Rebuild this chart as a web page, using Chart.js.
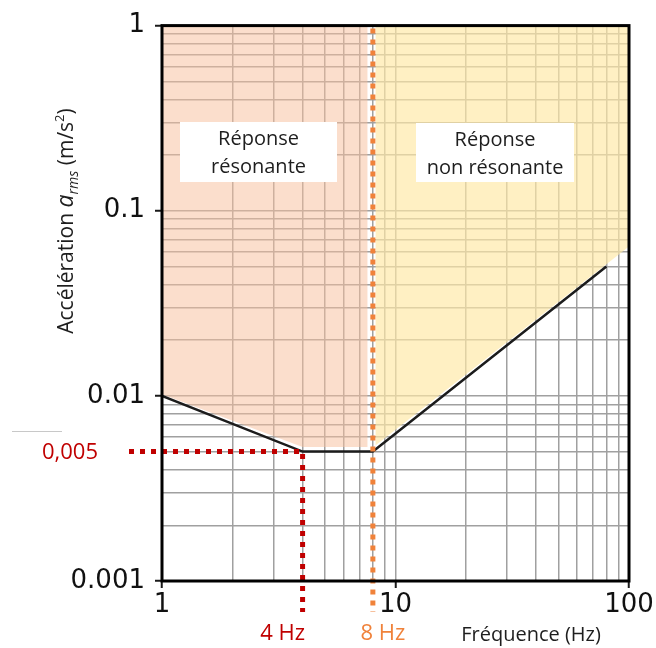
<!DOCTYPE html>
<html>
<head>
<meta charset="utf-8">
<script src="https://cdn.jsdelivr.net/npm/chart.js@4"></script>
<style>
  html, body { margin: 0; padding: 0; background: #ffffff; }
  canvas { display: block; }
</style>
</head>
<body>
<canvas id="c" width="656" height="648"></canvas>
<script>
// Threshold curve: frequency (Hz) and rms acceleration (m/s²)
const freqHz = [1, 4, 8, 80];
const accRms = [0.01, 0.005, 0.005, 0.05];

// Lower edges of the two shaded response zones
const resonantFreq = [1, 4, 7.6];
const resonantAcc = [0.0102, 0.0053, 0.0053];
const nonResonantFreq = [8.2, 100];
const nonResonantAcc = [0.0054, 0.064];

// Reference markers
const markerAcc = 0.005;
const markerFreqRed = 4;
const markerFreqOrange = 8;
const markerAccLabel = '0,005';
const markerRedLabel = '4 Hz';
const markerOrangeLabel = '8 Hz';

// Axes
const xMajor = [1, 10, 100];
const xTickLabels = ['1', '10', '100'];
const yMajor = [0.001, 0.01, 0.1, 1];
const yTickLabels = ['0.001', '0.01', '0.1', '1'];
const minorSteps = [1, 2, 3, 4, 5, 6, 7, 8, 9];
const xTitle = 'Fréquence (Hz)';
const zoneLabels = [['Réponse', 'résonante'], ['Réponse', 'non résonante']];

const RED = '#c00000';
const ORANGE = '#f0823a';
const GRID = '#a0a0a0';
const TEXT_FONT = '"Open Sans", "Liberation Sans", sans-serif';

function gridValues(majors) {
  const out = [];
  for (let i = 0; i < majors.length - 1; i++) {
    for (const s of minorSteps) out.push(+(majors[i] * s).toPrecision(6));
  }
  out.push(majors[majors.length - 1]);
  return out;
}
function majorIndex(list, v) {
  return list.findIndex(m => Math.abs(m - v) / m < 1e-6);
}
function toPoints(xs, ys) {
  return xs.map((v, i) => ({ x: v, y: ys[i] }));
}

const overlay = {
  id: 'overlay',
  afterDatasetsDraw(chart) {
    const { ctx, chartArea: a, scales: { x, y } } = chart;
    const yv = y.getPixelForValue(markerAcc);
    const x4 = x.getPixelForValue(markerFreqRed);
    const x8 = x.getPixelForValue(markerFreqOrange);

    // Zone captions on white cards
    const cards = [
      { l: a.left + 18, r: a.left + 175, t: 122, b: 182, lines: zoneLabels[0] },
      { l: a.left + 254, r: a.left + 412, t: 123, b: 182, lines: zoneLabels[1] }
    ];
    ctx.save();
    for (const c of cards) {
      ctx.fillStyle = '#ffffff';
      ctx.fillRect(c.l, c.t, c.r - c.l, c.b - c.t);
      ctx.fillStyle = '#1e1e1e';
      ctx.font = '20px ' + TEXT_FONT;
      ctx.textAlign = 'center';
      ctx.textBaseline = 'middle';
      const cx = (c.l + c.r) / 2;
      ctx.fillText(c.lines[0], cx, c.t + 17);
      ctx.fillText(c.lines[1], cx, c.t + 45);
    }
    ctx.restore();

    // Dotted reference lines
    ctx.save();
    ctx.lineWidth = 5;
    ctx.setLineDash([5, 6]);
    ctx.strokeStyle = RED;
    ctx.beginPath();
    ctx.moveTo(129, yv);
    ctx.lineTo(x4, yv);
    ctx.lineTo(x4, 612);
    ctx.stroke();
    ctx.strokeStyle = ORANGE;
    ctx.beginPath();
    ctx.moveTo(x8, a.top + 3);
    ctx.lineTo(x8, 612);
    ctx.stroke();
    ctx.restore();

    // Plot frame
    ctx.save();
    ctx.strokeStyle = '#000000';
    ctx.lineWidth = 3;
    ctx.strokeRect(a.left, a.top, a.right - a.left, a.bottom - a.top);
    ctx.restore();
  },
  afterDraw(chart) {
    const { ctx, scales: { x, y } } = chart;
    const yv = y.getPixelForValue(markerAcc);
    const x4 = x.getPixelForValue(markerFreqRed);
    const x8 = x.getPixelForValue(markerFreqOrange);
    ctx.save();
    // faint separator left of the marker value
    ctx.strokeStyle = '#c8c8c8';
    ctx.lineWidth = 1;
    ctx.beginPath();
    ctx.moveTo(12, 431.5);
    ctx.lineTo(62, 431.5);
    ctx.stroke();

    ctx.font = '22px ' + TEXT_FONT;
    ctx.textBaseline = 'middle';
    ctx.textAlign = 'center';
    ctx.fillStyle = RED;
    ctx.fillText(markerAccLabel, 70, yv + 1);
    ctx.fillText(markerRedLabel, x4 - 20, 634);
    ctx.fillStyle = ORANGE;
    ctx.fillText(markerOrangeLabel, x8 + 10, 634);

    ctx.fillStyle = '#1e1e1e';
    ctx.font = '20px ' + TEXT_FONT;
    ctx.fillText(xTitle, 531, 635);

    // Y axis title with italic a_rms and squared unit
    const parts = [
      { t: 'Accélération ', f: '21px ' + TEXT_FONT, dy: 0 },
      { t: 'a', f: 'italic 23px ' + TEXT_FONT, dy: 0 },
      { t: 'rms', f: 'italic 14px ' + TEXT_FONT, dy: 5 },
      { t: ' (m/s', f: '21px ' + TEXT_FONT, dy: 0 },
      { t: '2', f: '13px ' + TEXT_FONT, dy: -9 },
      { t: ')', f: '21px ' + TEXT_FONT, dy: 0 }
    ];
    let total = 0;
    for (const p of parts) { ctx.font = p.f; p.w = ctx.measureText(p.t).width; total += p.w; }
    ctx.translate(73, 221);
    ctx.rotate(-Math.PI / 2);
    ctx.textAlign = 'left';
    ctx.textBaseline = 'alphabetic';
    let px = -total / 2;
    for (const p of parts) {
      ctx.font = p.f;
      ctx.fillText(p.t, px, p.dy);
      px += p.w;
    }
    ctx.restore();
  }
};

const xGrid = gridValues(xMajor);
const yGrid = gridValues(yMajor);
const tickFont = { family: '"DejaVu Sans", sans-serif', size: 26 };

new Chart(document.getElementById('c'), {
  type: 'line',
  data: {
    datasets: [
      {
        data: toPoints(freqHz, accRms),
        borderColor: '#1c1c1c',
        borderWidth: 2.5,
        pointRadius: 0,
        fill: false,
        tension: 0
      },
      {
        data: toPoints(resonantFreq, resonantAcc),
        borderWidth: 0,
        borderColor: 'rgba(0,0,0,0)',
        backgroundColor: 'rgba(247,191,158,0.52)',
        pointRadius: 0,
        fill: 'end',
        tension: 0
      },
      {
        data: toPoints(nonResonantFreq, nonResonantAcc),
        borderWidth: 0,
        borderColor: 'rgba(0,0,0,0)',
        backgroundColor: 'rgba(255,233,167,0.68)',
        pointRadius: 0,
        fill: 'end',
        tension: 0
      }
    ]
  },
  options: {
    responsive: false,
    devicePixelRatio: 1,
    animation: false,
    layout: { padding: { left: 0, top: 23, right: 27, bottom: 0 } },
    plugins: { legend: { display: false }, tooltip: { enabled: false } },
    scales: {
      x: {
        type: 'logarithmic',
        min: 1,
        max: 100,
        afterBuildTicks(s) { s.ticks = xGrid.map(v => ({ value: v })); },
        afterFit(s) { s.height = 67; },
        border: { display: false },
        grid: {
          color: GRID,
          lineWidth: 1.5,
          drawTicks: true,
          tickLength: 7,
          tickWidth: 2,
          tickColor: c => majorIndex(xMajor, c.tick.value) >= 0 ? '#1a1a1a' : 'rgba(0,0,0,0)'
        },
        ticks: {
          autoSkip: false,
          maxRotation: 0,
          minRotation: 0,
          padding: 2,
          color: '#111111',
          font: tickFont,
          callback: v => { const i = majorIndex(xMajor, v); return i >= 0 ? xTickLabels[i] : ''; }
        }
      },
      y: {
        type: 'logarithmic',
        min: 0.001,
        max: 1,
        afterBuildTicks(s) { s.ticks = yGrid.map(v => ({ value: v })); },
        afterFit(s) { s.width = 162; },
        border: { display: false },
        grid: {
          color: GRID,
          lineWidth: 1.5,
          drawTicks: true,
          tickLength: 7,
          tickWidth: 2,
          tickColor: c => majorIndex(yMajor, c.tick.value) >= 0 ? '#1a1a1a' : 'rgba(0,0,0,0)'
        },
        ticks: {
          autoSkip: false,
          padding: 10,
          color: '#111111',
          font: tickFont,
          callback: v => { const i = majorIndex(yMajor, v); return i >= 0 ? yTickLabels[i] : ''; }
        }
      }
    }
  },
  plugins: [overlay]
});
</script>
</body>
</html>
